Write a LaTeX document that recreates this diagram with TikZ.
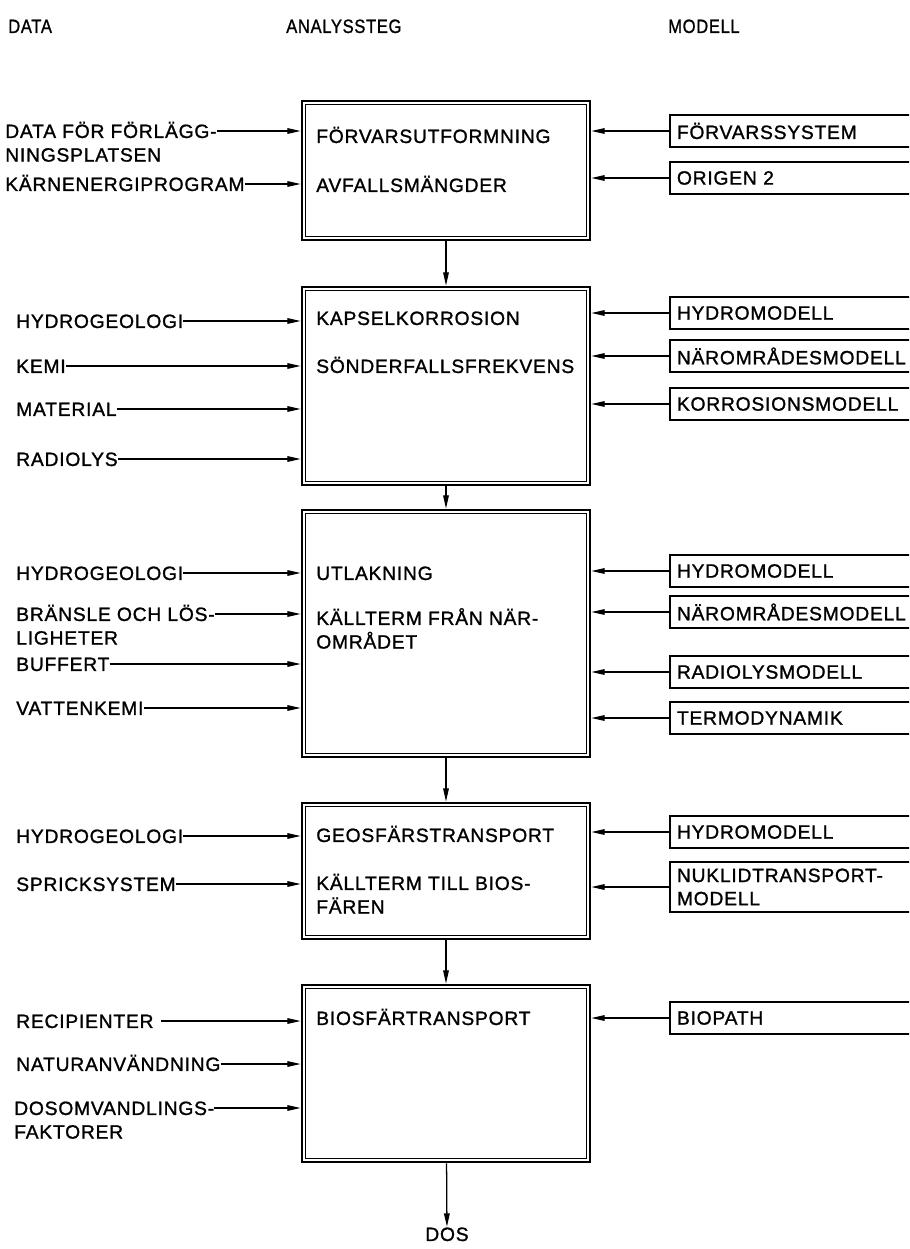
\documentclass[tikz,border=0pt]{standalone}
\usepackage{fontspec}
\setmainfont{Liberation Sans}[LetterSpace=4,FakeBold=1.2]
\usetikzlibrary{arrows.meta,positioning}

\tikzset{
  lbl/.style={anchor=west,inner sep=0pt,text height=9.9pt,text depth=0pt,font=\fontsize{13.7}{16.5}\selectfont},
  rubrik/.style={lbl,xscale=0.86,transform shape},
  stegbox/.style={draw,line width=1.9pt,minimum width=7.2cm,inner sep=0pt},
  modbox/.style={draw,line width=1.3pt,anchor=west,inner xsep=5pt,text width=7.5cm,align=left,minimum height=0.8cm,font=\fontsize{13.7}{16.5}\selectfont},
  pil/.style={-{Triangle[length=9.5pt,width=4pt]},line width=0.9pt},
}

\begin{document}
\begin{tikzpicture}[x=0.025cm,y=-0.025cm]
  \clip (0,0) rectangle (909,1249);

  % rubriker
  \node[rubrik] (hdata) at (8,26) {DATA};
  \node[rubrik] (hsteg) at (286,26) {ANALYSSTEG};
  \node[rubrik] (hmod) at (668,26) {MODELL};

  % analyssteg
  \node[stegbox,minimum height=3.475cm] (b1) at (446,170.5) {};
  \node[stegbox,minimum height=4.95cm] (b2) at (446,386) {};
  \node[stegbox,minimum height=6.175cm] (b3) at (446,633.5) {};
  \node[stegbox,minimum height=3.4cm] (b4) at (446,871) {};
  \node[stegbox,minimum height=4.425cm] (b5) at (446,1073.5) {};
  \foreach \b in {b1,b2,b3,b4,b5}
    \draw[line width=0.9pt] ([xshift=3.6pt,yshift=-3.6pt]\b.north west) rectangle ([xshift=-3.6pt,yshift=3.6pt]\b.south east);

  \node[lbl] (t1a) at (316,136) {FÖRVARSUTFORMNING};
  \node[lbl] (t1b) at (316,185) {AVFALLSMÄNGDER};
  \node[lbl] (t2a) at (316,318) {KAPSELKORROSION};
  \node[lbl] (t2b) at (316,366) {SÖNDERFALLSFREKVENS};
  \node[lbl] (t3a) at (316,573) {UTLAKNING};
  \node[lbl] (t3b) at (316,618) {KÄLLTERM FRÅN NÄR-};
  \node[lbl,below=6.5pt of t3b.south west,anchor=north west] (t3c) {OMRÅDET};
  \node[lbl] (t4a) at (316,835) {GEOSFÄRSTRANSPORT};
  \node[lbl] (t4b) at (316,883) {KÄLLTERM TILL BIOS-};
  \node[lbl,below=6.5pt of t4b.south west,anchor=north west] (t4c) {FÄREN};
  \node[lbl] (t5a) at (316,1018) {BIOSFÄRTRANSPORT};

  \node[lbl,anchor=center] (dos) at (447,1234) {DOS};

  \draw[pil] (b1) -- (b2);
  \draw[pil] (b2) -- (b3);
  \draw[pil] (b3) -- (b4);
  \draw[pil] (b4) -- (b5);
  \draw[pil] (b5) -- (dos);

  % data
  \node[lbl] (d1) at (5,131) {DATA FÖR FÖRLÄGG-};
  \node[lbl,below=6.5pt of d1.south west,anchor=north west] (d1b) {NINGSPLATSEN};
  \node[lbl] (d2) at (5,184) {KÄRNENERGIPROGRAM};
  \node[lbl] (d3) at (16,321) {HYDROGEOLOGI};
  \node[lbl] (d4) at (16,366) {KEMI};
  \node[lbl] (d5) at (16,409) {MATERIAL};
  \node[lbl] (d6) at (16,459) {RADIOLYS};
  \node[lbl] (d7) at (16,573) {HYDROGEOLOGI};
  \node[lbl] (d8) at (16,614) {BRÄNSLE OCH LÖS-};
  \node[lbl,below=6.5pt of d8.south west,anchor=north west] (d8b) {LIGHETER};
  \node[lbl] (d9) at (16,664) {BUFFERT};
  \node[lbl] (d10) at (16,708) {VATTENKEMI};
  \node[lbl] (d11) at (16,836) {HYDROGEOLOGI};
  \node[lbl] (d12) at (16,884) {SPRICKSYSTEM};
  \node[lbl] (d13) at (16,1021) {RECIPIENTER};
  \node[lbl] (d14) at (16,1064) {NATURANVÄNDNING};
  \node[lbl] (d15) at (14,1108) {DOSOMVANDLINGS-};
  \node[lbl,below=6.5pt of d15.south west,anchor=north west] (d15b) {FAKTORER};

  \draw[pil] (d1.east) -- (d1.east -| b1.west);
  \draw[pil] (d2.east) -- (d2.east -| b1.west);
  \draw[pil] (d3.east) -- (d3.east -| b2.west);
  \draw[pil] (d4.east) -- (d4.east -| b2.west);
  \draw[pil] (d5.east) -- (d5.east -| b2.west);
  \draw[pil] (d6.east) -- (d6.east -| b2.west);
  \draw[pil] (d7.east) -- (d7.east -| b3.west);
  \draw[pil] (d8.east) -- (d8.east -| b3.west);
  \draw[pil] (d9.east) -- (d9.east -| b3.west);
  \draw[pil] (d10.east) -- (d10.east -| b3.west);
  \draw[pil] (d11.east) -- (d11.east -| b4.west);
  \draw[pil] (d12.east) -- (d12.east -| b4.west);
  \draw[pil] ([xshift=5pt]d13.east) -- (d13.east -| b5.west);
  \draw[pil] (d14.east) -- (d14.east -| b5.west);
  \draw[pil] (d15.east) -- (d15.east -| b5.west);

  % modeller
  \node[modbox] (m1) at (669,131) {FÖRVARSSYSTEM};
  \node[modbox] (m2) at (669,178) {ORIGEN 2};
  \node[modbox] (m3) at (669,313) {HYDROMODELL};
  \node[modbox] (m4) at (669,356) {NÄROMRÅDESMODELL};
  \node[modbox] (m5) at (669,404) {KORROSIONSMODELL};
  \node[modbox] (m6) at (669,571) {HYDROMODELL};
  \node[modbox] (m7) at (669,612) {NÄROMRÅDESMODELL};
  \node[modbox] (m8) at (669,672) {RADIOLYSMODELL};
  \node[modbox] (m9) at (669,718) {TERMODYNAMIK};
  \node[modbox] (m10) at (669,832) {HYDROMODELL};
  \node[modbox,minimum height=1.25cm] (m11) at (669,887) {NUKLIDTRANSPORT-\\MODELL};
  \node[modbox] (m12) at (669,1018) {BIOPATH};

  \draw[pil] (m1.west) -- (m1.west -| b1.east);
  \draw[pil] (m2.west) -- (m2.west -| b1.east);
  \draw[pil] (m3.west) -- (m3.west -| b2.east);
  \draw[pil] (m4.west) -- (m4.west -| b2.east);
  \draw[pil] (m5.west) -- (m5.west -| b2.east);
  \draw[pil] (m6.west) -- (m6.west -| b3.east);
  \draw[pil] (m7.west) -- (m7.west -| b3.east);
  \draw[pil] (m8.west) -- (m8.west -| b3.east);
  \draw[pil] (m9.west) -- (m9.west -| b3.east);
  \draw[pil] (m10.west) -- (m10.west -| b4.east);
  \draw[pil] (m11.west) -- (m11.west -| b4.east);
  \draw[pil] (m12.west) -- (m12.west -| b5.east);
\end{tikzpicture}
\end{document}
